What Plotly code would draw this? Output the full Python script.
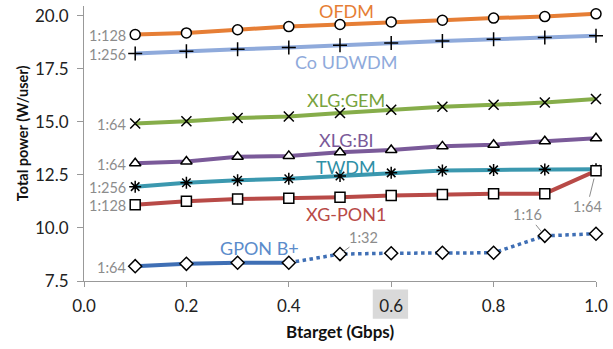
import plotly.graph_objects as go

x_vals = [0.1, 0.2, 0.3, 0.4, 0.5, 0.6, 0.7, 0.8, 0.9, 1.0]
ofdm = [19.12, 19.2, 19.35, 19.5, 19.6, 19.72, 19.8, 19.9, 19.97, 20.1]
co_udwdm = [18.23, 18.34, 18.43, 18.51, 18.62, 18.73, 18.82, 18.9, 18.98, 19.07]
xlg_gem = [14.93, 15.03, 15.19, 15.26, 15.42, 15.58, 15.72, 15.81, 15.92, 16.08]
xlg_bi = [13.05, 13.14, 13.36, 13.4, 13.57, 13.68, 13.85, 13.93, 14.09, 14.23]
twdm = [11.95, 12.13, 12.25, 12.32, 12.45, 12.6, 12.71, 12.74, 12.76, 12.77]
xg_pon1 = [11.1, 11.26, 11.37, 11.4, 11.45, 11.53, 11.58, 11.62, 11.62, 12.7]
gpon_bplus = [8.2, 8.31, 8.36, 8.36, 8.77, 8.81, 8.83, 8.83, 9.63, 9.73]
gpon_solid_end = 4  # points 0.1..0.4 solid, rest dotted

series_names = ["OFDM", "Co UDWDM", "XLG:GEM", "XLG:BI", "TWDM", "XG-PON1", "GPON B+"]
start_ratios = ["1:128", "1:256", "1:64", "1:64", "1:256", "1:128", "1:64"]
x_ticks = [0.0, 0.2, 0.4, 0.6, 0.8, 1.0]
y_ticks = [7.5, 10.0, 12.5, 15.0, 17.5, 20.0]

FONT = "Lato, 'Liberation Sans', sans-serif"
colors = ["#E67E35", "#8FAADB", "#86AD4A", "#7A5A99", "#3B98AF", "#B84A47", "#3F6FB5"]
label_colors = ["#E67E35", "#8FAADB", "#78A33E", "#7A5A99", "#2F8FA6", "#B84A47", "#5B8CCB"]
symbols = ["circle", "cross-thin-open", "x-thin-open", "triangle-up", "asterisk-open", "square", "diamond"]
label_pos = [(0.512, 20.24), (0.512, 17.84), (0.512, 16.05), (0.512, 14.16),
             (0.512, 12.89), (0.512, 10.68), (0.342, 9.08)]

fig = go.Figure()
all_series = [ofdm, co_udwdm, xlg_gem, xlg_bi, twdm, xg_pon1, gpon_bplus]

for i, ys in enumerate(all_series):
    sym = symbols[i]
    thin = "thin" in sym or "asterisk" in sym
    marker = dict(symbol=sym, size=10,
                  color="white" if not thin else "black",
                  line=dict(color="black", width=1.5))
    if i == 6:
        fig.add_trace(go.Scatter(x=x_vals[gpon_solid_end - 1:], y=ys[gpon_solid_end - 1:],
                                 mode="lines", line=dict(color=colors[i], width=3.5, dash="dot"),
                                 showlegend=False, cliponaxis=False))
        fig.add_trace(go.Scatter(x=x_vals[:gpon_solid_end], y=ys[:gpon_solid_end],
                                 mode="lines", line=dict(color=colors[i], width=4),
                                 showlegend=False, cliponaxis=False))
        fig.add_trace(go.Scatter(x=x_vals, y=ys, mode="markers", marker=marker,
                                 showlegend=False, cliponaxis=False))
    else:
        fig.add_trace(go.Scatter(x=x_vals, y=ys, mode="lines+markers",
                                 line=dict(color=colors[i], width=4), marker=marker,
                                 showlegend=False, cliponaxis=False))

annotations = []
for i, ys in enumerate(all_series):
    annotations.append(dict(x=x_vals[0], y=ys[0], text=start_ratios[i], showarrow=False,
                            xanchor="right", xshift=-7, yshift=-1,
                            font=dict(family=FONT, size=14.5, color="#8C8C8C")))
    lx, ly = label_pos[i]
    annotations.append(dict(x=lx, y=ly, text=series_names[i], showarrow=False,
                            font=dict(family=FONT, size=18, color=label_colors[i])))

gray = "#8C8C8C"
annotations.append(dict(x=0.5, y=gpon_bplus[4], text="1:32", showarrow=True, arrowhead=0,
                        arrowwidth=1, arrowcolor=gray, ax=23, ay=-17, standoff=4,
                        font=dict(family=FONT, size=14.5, color=gray)))
annotations.append(dict(x=0.9, y=gpon_bplus[8], text="1:16", showarrow=True, arrowhead=0,
                        arrowwidth=1, arrowcolor=gray, ax=-17, ay=-21, standoff=5,
                        font=dict(family=FONT, size=14.5, color=gray)))
annotations.append(dict(x=1.0, y=xg_pon1[9], text="1:64", showarrow=True, arrowhead=0,
                        arrowwidth=1, arrowcolor=gray, ax=-9, ay=36, standoff=8,
                        font=dict(family=FONT, size=14.5, color=gray)))

# axis titles as annotations for exact placement
annotations.append(dict(xref="paper", yref="paper", x=0.5, y=-0.182, xanchor="center", yanchor="middle",
                        text="<b>Btarget (Gbps)</b>",
                        showarrow=False, font=dict(family=FONT, size=17, color="#111111")))
annotations.append(dict(xref="paper", yref="paper", x=-0.12, y=0.536, xanchor="center", yanchor="middle",
                        text="<b>Total power (W/user)</b>",
                        showarrow=False, textangle=-90, font=dict(family=FONT, size=14.5, color="#111111")))

fig.update_layout(
    width=613, height=349,
    margin=dict(l=84, r=9, t=5, b=68),
    paper_bgcolor="white", plot_bgcolor="white",
    font=dict(family=FONT, size=17, color="#222222"),
    annotations=annotations,
    shapes=[dict(type="rect", xref="x", yref="paper", x0=0.564, x1=0.633, y0=-0.137, y1=-0.031,
                 fillcolor="#D9D9D9", line=dict(width=0), layer="below")],
    xaxis=dict(range=[0, 1.0], tickvals=x_ticks, ticktext=[f"{v:.1f}" for v in x_ticks],
               showgrid=False, zeroline=False, showline=True, linecolor="#999999", linewidth=1,
               ticks="outside", ticklen=5, tickcolor="#999999", ticklabeloverflow="allow",
               ticklabelstandoff=5,
               tickfont=dict(family=FONT, size=17, color="#222222")),
    yaxis=dict(range=[7.5, 20.47], tickvals=y_ticks, ticktext=[f"{v:.1f}" for v in y_ticks],
               showgrid=False, zeroline=False, showline=True, linecolor="#999999", linewidth=1,
               ticks="outside", ticklen=6, tickcolor="#999999", ticklabelstandoff=5,
               tickfont=dict(family=FONT, size=17, color="#222222")),
)

fig.write_html("out.html")
